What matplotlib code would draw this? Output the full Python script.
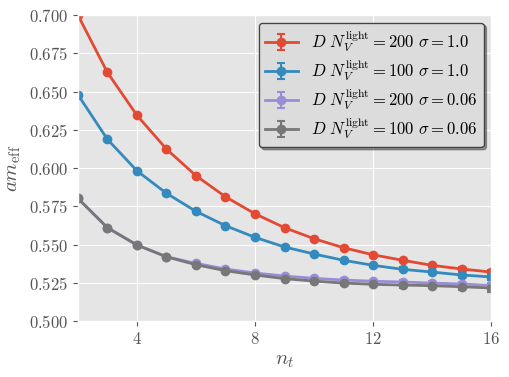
import matplotlib
matplotlib.use("Agg")
import matplotlib.pyplot as plt
from matplotlib.ticker import FuncFormatter
import numpy as np

plt.style.use("ggplot")
plt.rcParams["mathtext.fontset"] = "cm"
plt.rcParams["font.family"] = "serif"
plt.rcParams["font.serif"] = ["cmr10", "DejaVu Serif"]
plt.rcParams["axes.formatter.use_mathtext"] = True

nt = [2, 3, 4, 5, 6, 7, 8, 9, 10, 11, 12, 13, 14, 15, 16]

red = [0.700, 0.6625, 0.6345, 0.6124, 0.5950, 0.5812, 0.5701, 0.5610, 0.5538, 0.5479, 0.5433, 0.5397, 0.5364, 0.5340, 0.5320]
red_err = [0.0003, 0.0003, 0.0003, 0.0003, 0.0004, 0.0004, 0.0005, 0.0005, 0.0006, 0.0006, 0.0007, 0.0008, 0.0009, 0.0010, 0.0011]

blue = [0.648, 0.6188, 0.5982, 0.5835, 0.5717, 0.5623, 0.5547, 0.5484, 0.5438, 0.5397, 0.5364, 0.5338, 0.5320, 0.5301, 0.5288]
blue_err = [0.0004, 0.0004, 0.0004, 0.0005, 0.0005, 0.0006, 0.0007, 0.0008, 0.0009, 0.0010, 0.0011, 0.0013, 0.0015, 0.0017, 0.0019]

purple = [0.5802, 0.5610, 0.5497, 0.5420, 0.5377, 0.5340, 0.5314, 0.5294, 0.5279, 0.5268, 0.5260, 0.5255, 0.5248, 0.5242, 0.5233]
purple_err = [0.0004, 0.0004, 0.0004, 0.0005, 0.0005, 0.0006, 0.0007, 0.0008, 0.0009, 0.0010, 0.0011, 0.0012, 0.0014, 0.0016, 0.0018]

gray = [0.5802, 0.5610, 0.5497, 0.5420, 0.5368, 0.5329, 0.5301, 0.5277, 0.5261, 0.5248, 0.5240, 0.5235, 0.5231, 0.5224, 0.5216]
gray_err = [0.0004, 0.0004, 0.0005, 0.0005, 0.0006, 0.0007, 0.0008, 0.0009, 0.0011, 0.0012, 0.0014, 0.0016, 0.0018, 0.0021, 0.0024]

labels = [
    r"$D\ N_V^{\rm light} = 200\ \sigma = 1.0$",
    r"$D\ N_V^{\rm light} = 100\ \sigma = 1.0$",
    r"$D\ N_V^{\rm light} = 200\ \sigma = 0.06$",
    r"$D\ N_V^{\rm light} = 100\ \sigma = 0.06$",
]
colors = ["#E24A33", "#348ABD", "#988ED5", "#777777"]

fig = plt.figure(figsize=(5.09, 3.77), dpi=100)
ax = fig.add_axes([0.153, 0.1485, 0.812, 0.8115])

for y, e, c, lab in zip([red, blue, purple, gray], [red_err, blue_err, purple_err, gray_err], colors, labels):
    ax.errorbar(nt, y, yerr=e, color=c, marker="o", markersize=6, lw=2,
                capsize=3, elinewidth=1.5, capthick=1.5, label=lab)

ax.set_xlim(2, 16)
ax.set_ylim(0.5, 0.7)
ax.set_xticks([4, 8, 12, 16])
ax.set_yticks(np.arange(0.5, 0.7001, 0.025))
ax.xaxis.set_major_formatter(FuncFormatter(lambda v, p: r"$%d$" % v))
ax.yaxis.set_major_formatter(FuncFormatter(lambda v, p: r"$%.3f$" % v))
ax.tick_params(labelsize=12, colors="#555555", labelcolor="#555555")
ax.set_xlabel(r"$n_t$", fontsize=15, color="#555555")
ax.set_ylabel(r"$am_{\rm eff}$", fontsize=15, color="#555555")

leg = ax.legend(loc="upper right", fontsize=12, shadow=True, fancybox=True,
                frameon=True, framealpha=0.9, edgecolor="#333333",
                handlelength=2.0, labelspacing=0.2, borderpad=0.35,
                handletextpad=0.8, borderaxespad=0.45)
leg.get_frame().set_facecolor("#E5E5E5")
leg.get_frame().set_linewidth(1.0)

fig.savefig("out.png", dpi=100)
